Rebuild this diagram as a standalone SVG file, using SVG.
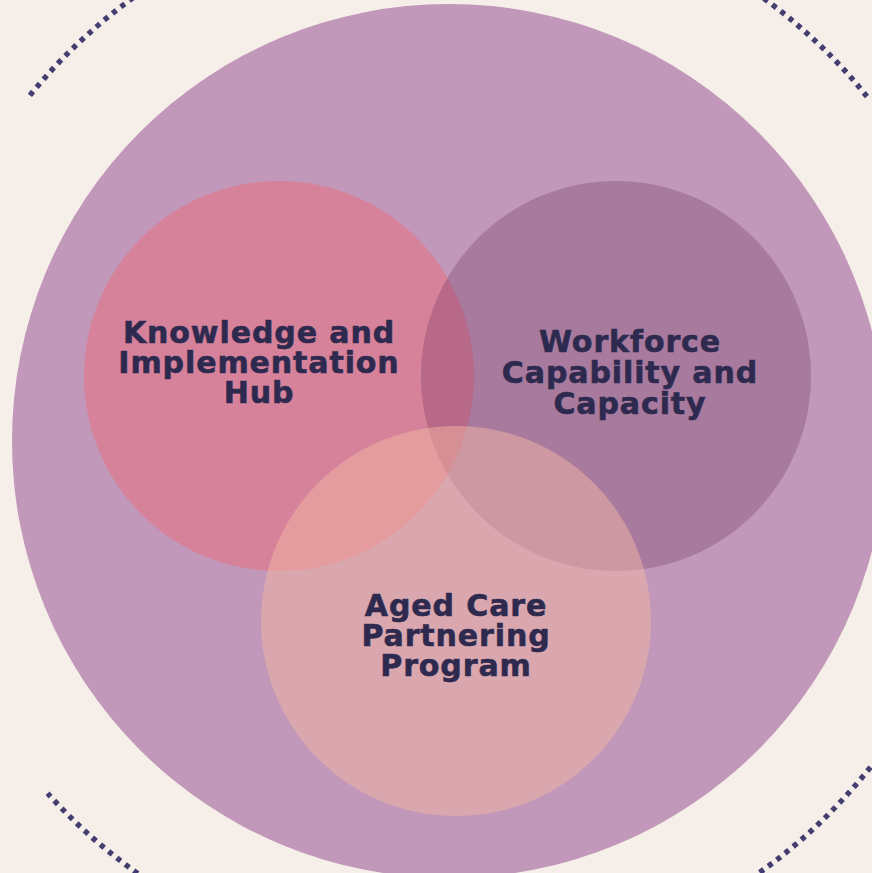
<svg xmlns="http://www.w3.org/2000/svg" width="872" height="873" viewBox="0 0 872 873">
<style>
.lbl{font-family:"DejaVu Sans","Verdana",sans-serif;font-weight:bold;font-size:30px;fill:#2e2a4f;stroke:#2e2a4f;stroke-width:0.6px;text-anchor:middle;letter-spacing:0.9px}
.ring{fill:none;stroke:#433d70;stroke-width:5.4;stroke-dasharray:5 5.6}
</style>
<rect width="872" height="873" fill="#f6eee8"/>
<g id="connectors">
<path class="ring" d="M 29.9 95.4 A 538 538 0 0 1 869.6 99.8"/>
<path class="ring" d="M 883.2 750.2 A 538 538 0 0 1 47.6 793.3"/>
</g>
<g id="outer"><circle cx="449" cy="441" r="437" fill="#c198b9"/></g>
<g id="knowledge">
<circle cx="279" cy="376" r="195" fill="#d6829a"/>
<text class="lbl" x="259" y="343">Knowledge and</text>
<text class="lbl" x="259" y="373">Implementation</text>
<text class="lbl" x="259" y="403">Hub</text>
</g>
<g id="workforce">
<circle cx="616" cy="376" r="195" fill="#5a2050" fill-opacity="0.25"/>
</g>
<g id="aged">
<circle cx="456" cy="621" r="195" fill="#f3b5a4" fill-opacity="0.5"/>
</g>
<g id="labels2">
<text class="lbl" x="630" y="352">Workforce</text>
<text class="lbl" x="630" y="383">Capability and</text>
<text class="lbl" x="630" y="414">Capacity</text>
<text class="lbl" x="456" y="616">Aged Care</text>
<text class="lbl" x="456" y="646">Partnering</text>
<text class="lbl" x="456" y="676">Program</text>
</g>
</svg>
